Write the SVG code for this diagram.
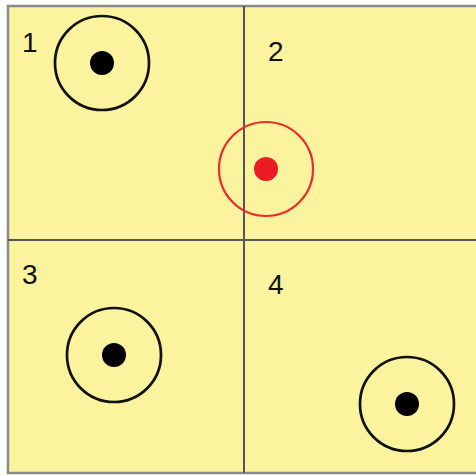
<svg xmlns="http://www.w3.org/2000/svg" width="476" height="475" viewBox="0 0 476 475">
<style>
.ring{fill:none;stroke:#111;stroke-width:2.7}
.dot{fill:#000}
.red .ring{stroke:#ee2a2a;stroke-width:2.2}
.red .dot{fill:#ec1c24}
.lbl{font-family:"Liberation Sans",Arial,sans-serif;font-size:28px;fill:#111}
.grid{stroke:#555;stroke-width:2;fill:none}
</style>
<rect x="8" y="6" width="470" height="467" fill="#fbf39d" stroke="#8a8a8a" stroke-width="2.5"/>
<g id="connectors">
<line class="grid" x1="244" y1="6" x2="244" y2="473"/>
<line class="grid" x1="8" y1="240" x2="476" y2="240"/>
</g>
<g id="n1"><text class="lbl" x="22" y="52">1</text><circle class="ring" cx="102" cy="63" r="47"/><circle class="dot" cx="102" cy="63" r="12"/></g>
<g id="n2"><text class="lbl" x="268" y="61">2</text></g>
<g id="red" class="red"><circle class="ring" cx="266" cy="169" r="47"/><circle class="dot" cx="266" cy="169" r="12"/></g>
<g id="n3"><text class="lbl" x="22" y="284">3</text><circle class="ring" cx="114" cy="355" r="47"/><circle class="dot" cx="114" cy="355" r="12"/></g>
<g id="n4"><text class="lbl" x="268" y="294">4</text><circle class="ring" cx="407" cy="404" r="47"/><circle class="dot" cx="407" cy="404" r="12"/></g>
</svg>
